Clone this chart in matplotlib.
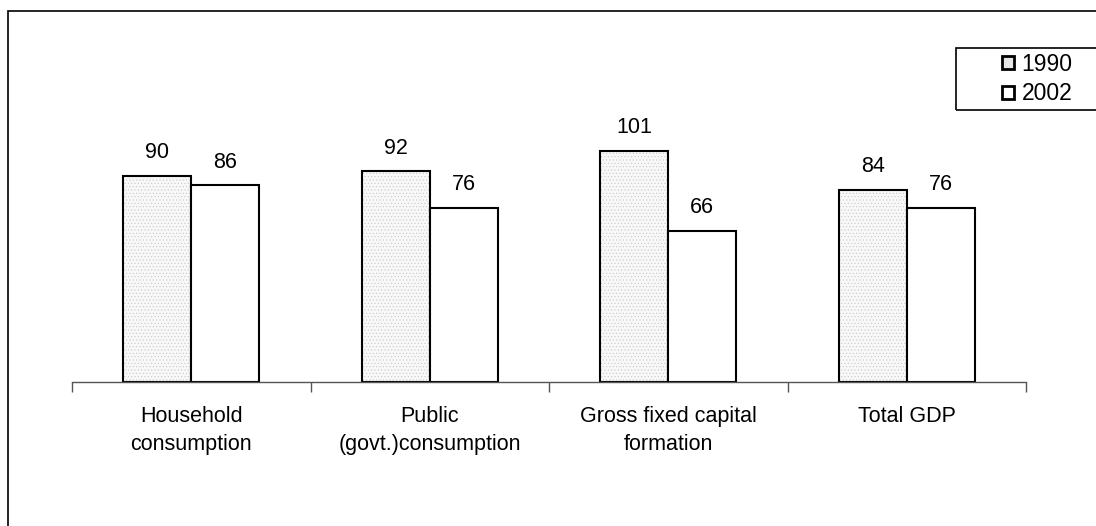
import numpy as np
import matplotlib.pyplot as plt
from matplotlib.patches import Rectangle, Patch

plt.rcParams['font.family'] = ['Liberation Sans', 'DejaVu Sans']
plt.rcParams['hatch.linewidth'] = 0.4

categories = ['Household\nconsumption', 'Public\n(govt.)consumption',
              'Gross fixed capital\nformation', 'Total GDP']
years = ['1990', '2002']
vals_1990 = [90, 92, 101, 84]
vals_2002 = [86, 76, 66, 76]

DOT = '#c8c8c8'

W, H = 1096, 526
fig = plt.figure(figsize=(W / 100, H / 100), dpi=100)

# outer chart border, running off the right and bottom edges
fig.add_artist(Rectangle((8 / W, -0.05), 1.2, 1 - 11 / H + 0.05, transform=fig.transFigure,
                         fill=False, edgecolor='black', linewidth=1.2))

# plot area in pixels: x 72..1026, baseline at y=382
ax = fig.add_axes([72 / W, 1 - 382 / H, (1026 - 72) / W, (382 - 62) / H])
x = np.arange(len(categories))
bw = 0.285
# dotted fill first (hatch takes the edge colour), then the black outline on top
ax.bar(x - bw / 2, vals_1990, bw, facecolor='#f8f8f8', hatch='.....',
       edgecolor=DOT, linewidth=0)
b1 = ax.bar(x - bw / 2, vals_1990, bw, fill=False, edgecolor='black', linewidth=1.5)
b2 = ax.bar(x + bw / 2, vals_2002, bw, facecolor='white',
            edgecolor='black', linewidth=1.5)
for bars in (b1, b2):
    ax.bar_label(bars, padding=9, fontsize=15.5)

ax.set_xlim(-0.5, len(categories) - 0.5)
ax.set_ylim(0, 139.7)
for s in ['top', 'right', 'left']:
    ax.spines[s].set_visible(False)
ax.spines['bottom'].set_color('#555555')
ax.spines['bottom'].set_linewidth(1.0)
ax.set_yticks([])
ax.set_xticks(x)
ax.set_xticklabels(categories, fontsize=15.5, linespacing=1.45)
ax.tick_params(axis='x', which='major', length=0, pad=17)
ax.set_xticks(np.arange(-0.5, len(categories)), minor=True)
ax.tick_params(axis='x', which='minor', length=7, width=1.0, color='#555555')

# legend box, also running off the right edge
fig.add_artist(Rectangle((956 / W, 1 - 110 / H), 0.2, 62 / H, transform=fig.transFigure,
                         fill=False, edgecolor='black', linewidth=1.2))
handles = [Patch(facecolor='#e6e6e6', edgecolor='black', linewidth=2.0),
           Patch(facecolor='white', edgecolor='black', linewidth=2.0)]
fig.legend(handles, years, loc='upper left', bbox_to_anchor=(986 / W, 1 - 37 / H),
           frameon=False, fontsize=16.5, handlelength=0.5, handleheight=0.5,
           handletextpad=0.35, labelspacing=0.28, borderpad=0.2)

fig.savefig('out.png', dpi=100)
